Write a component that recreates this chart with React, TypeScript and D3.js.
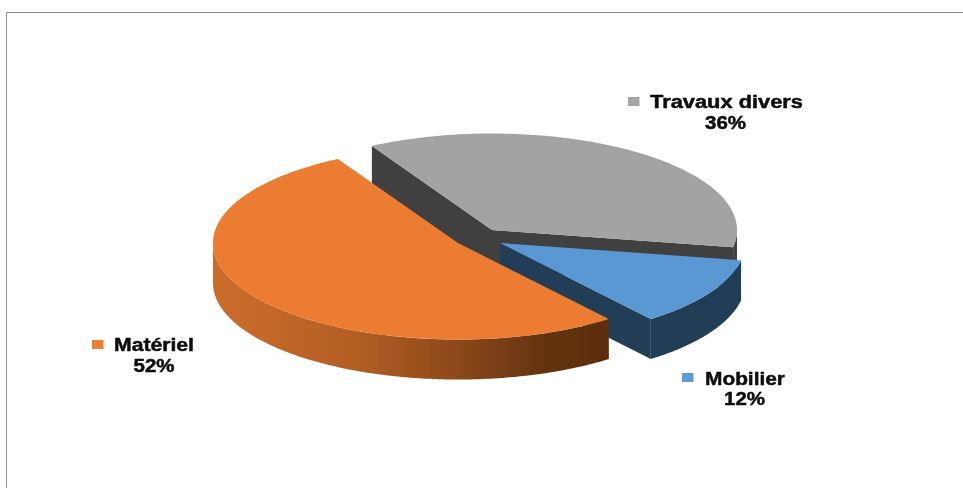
import React from "react";
import * as d3 from "d3";

const categories = ["Matériel", "Travaux divers", "Mobilier"];
const values = [52.4, 36, 11.6];
const topColors = ["#EB7C30", "#A3A3A3", "#5A98D4"];
const wallColors = ["url(#orangeWall)", "#404040", "#223D56"];
const legendColors = ["#ED7D31", "#A5A5A5", "#5B9BD5"];
const centers: [number, number][] = [[458, 243], [492, 230], [500, 243]];
const labelLayout = [
  { mx: 92, my: 340, tx: 114, ty: 351, tw: 80, pcx: 154, py: 372, pw: 41 },
  { mx: 628, my: 97, tx: 650, ty: 108, tw: 153, pcx: 725.5, py: 128.5, pw: 41 },
  { mx: 682, my: 373, tx: 705, ty: 385, tw: 80, pcx: 744.5, py: 404.5, pw: 41 },
];

const RX = 245;
const RY = 96.5;
const DEPTH = 40;
const FONT = "'Liberation Sans', Arial, sans-serif";

const xScale = d3.scaleLinear().domain([-1, 1]).range([-RX, RX]);
const yScale = d3.scaleLinear().domain([-1, 1]).range([-RY, RY]);

const pie = d3
  .pie<number>()
  .sort(null)
  .startAngle((142 * Math.PI) / 180)
  .endAngle((142 * Math.PI) / 180 + 2 * Math.PI);

const arcs = pie(values);

type P = [number, number];
const line = d3.line<P>();

// a is a d3.pie angle: clockwise from 12 o'clock
function rimPoint(c: P, a: number, dy = 0): P {
  return [c[0] + xScale(Math.sin(a)), c[1] - yScale(Math.cos(a)) + dy];
}

function rim(c: P, a0: number, a1: number, dy = 0): P[] {
  const n = Math.max(2, Math.ceil(Math.abs(a1 - a0) * 60));
  return d3.range(n + 1).map((i) => rimPoint(c, a0 + ((a1 - a0) * i) / n, dy));
}

function topPath(c: P, a0: number, a1: number) {
  return line([c, ...rim(c, a0, a1)]) + "Z";
}

function wallPath(c: P, a0: number, a1: number) {
  return line([...rim(c, a0, a1), ...rim(c, a1, a0, DEPTH)]) + "Z";
}

function facePath(c: P, a: number) {
  const t = rimPoint(c, a);
  return line([c, t, [t[0], t[1] + DEPTH], [c[0], c[1] + DEPTH]]) + "Z";
}

const deg = Math.PI / 180;

export default function App() {
  const [orange, gray, blue] = arcs;
  const co = centers[0];
  const cg = centers[1];
  const cb = centers[2];
  return (
    <svg
      width={963}
      height={488}
      style={{ position: "absolute", left: 0, top: 0, background: "#fff" }}
    >
      <defs>
        <linearGradient id="orangeWall" x1="0" x2="1" y1="0" y2="0">
          <stop offset="0" stopColor="#CB6D2B" />
          <stop offset="0.35" stopColor="#B45F24" />
          <stop offset="0.6" stopColor="#8F4A1B" />
          <stop offset="0.85" stopColor="#62320F" />
          <stop offset="1" stopColor="#5C2E0F" />
        </linearGradient>
        <filter id="soft" x="-5%" y="-5%" width="110%" height="110%">
          <feGaussianBlur stdDeviation="0.45" />
        </filter>
        <filter id="softText" x="-5%" y="-20%" width="110%" height="140%">
          <feGaussianBlur stdDeviation="0.4" />
        </filter>
      </defs>

      <path d="M6.5,488V12.5H963" fill="none" stroke="#8E8E8E" strokeWidth={1} />

      <g filter="url(#soft)">
        {/* gray slice */}
        <path d={facePath(cg, gray.startAngle)} fill={wallColors[1]} />
        <path d={facePath(cg, gray.endAngle)} fill={wallColors[1]} />
        <path d={wallPath(cg, 90 * deg, gray.endAngle - 2 * Math.PI)} fill={wallColors[1]} />
        <path d={topPath(cg, gray.startAngle, gray.endAngle)} fill={topColors[1]} />
        {/* blue slice */}
        <path d={facePath(cb, blue.endAngle)} fill={wallColors[2]} />
        <path d={wallPath(cb, blue.startAngle, blue.endAngle)} fill={wallColors[2]} />
        <path d={topPath(cb, blue.startAngle, blue.endAngle)} fill={topColors[2]} />
        {/* orange slice */}
        <path d={wallPath(co, orange.startAngle, 270 * deg)} fill={wallColors[0]} />
        <path d={topPath(co, orange.startAngle, orange.endAngle)} fill={topColors[0]} />
      </g>

      {categories.map((name, i) => {
        const l = labelLayout[i];
        return (
          <g key={name} filter="url(#softText)">
            <rect x={l.mx} y={l.my} width={11.5} height={9} fill={legendColors[i]} />
            <g
              fontFamily={FONT}
              fontWeight={700}
              fontSize={17.5}
              fill="#0A0A0A"
              stroke="#0A0A0A"
              strokeWidth={0.45}
            >
              <text x={l.tx} y={l.ty} textLength={l.tw} lengthAdjust="spacingAndGlyphs">
                {name}
              </text>
              <text x={l.pcx - l.pw / 2} y={l.py} textLength={l.pw} lengthAdjust="spacingAndGlyphs">
                {d3.format(".0f")(values[i])}%
              </text>
            </g>
          </g>
        );
      })}
    </svg>
  );
}
